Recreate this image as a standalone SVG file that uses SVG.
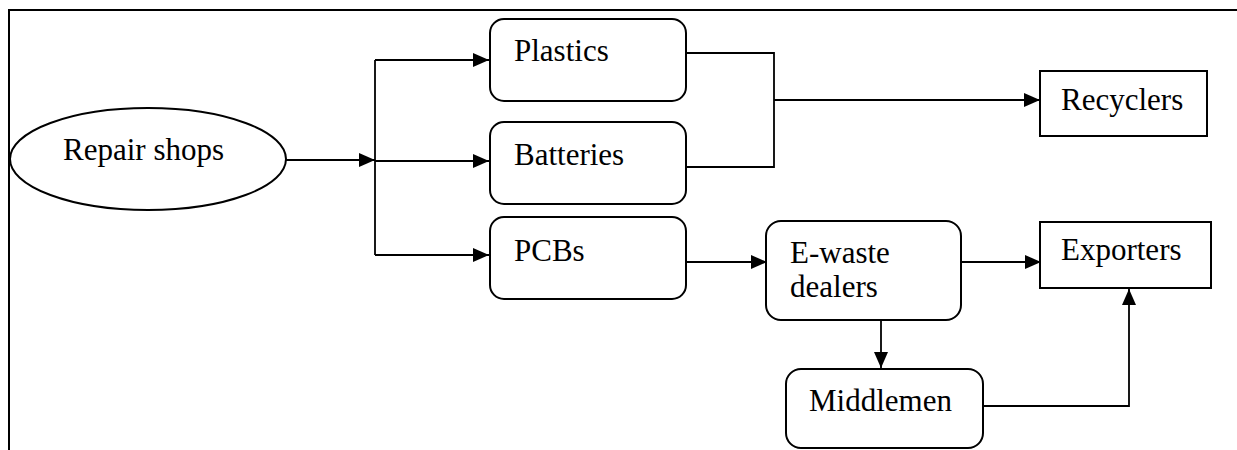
<svg xmlns="http://www.w3.org/2000/svg" width="1237" height="450" viewBox="0 0 1237 450">
<defs>
<style>
.box{fill:#fff;stroke:#000;stroke-width:2}
.ln{fill:none;stroke:#000;stroke-width:1.8}
.t{font-family:"Liberation Serif","Times New Roman",serif;font-size:31px;fill:#000}
</style>
<marker id="ah" markerWidth="16" markerHeight="14" refX="16" refY="7" orient="auto" markerUnits="userSpaceOnUse">
<path d="M0,0 L16,7 L0,14 Z" fill="#000"/>
</marker>
</defs>
<rect width="1237" height="450" fill="#fff"/>
<path d="M9,450 V10 H1237" fill="none" stroke="#000" stroke-width="2"/>
<g id="connectors">
<line class="ln" x1="286" y1="160" x2="375" y2="160" marker-end="url(#ah)"/>
<line class="ln" x1="375" y1="60" x2="375" y2="255"/>
<line class="ln" x1="375" y1="60" x2="489" y2="60" marker-end="url(#ah)"/>
<line class="ln" x1="375" y1="161" x2="489" y2="161" marker-end="url(#ah)"/>
<line class="ln" x1="375" y1="255" x2="489" y2="255" marker-end="url(#ah)"/>
<path class="ln" d="M686,53 H774 V167 H686"/>
<line class="ln" x1="774" y1="100" x2="1040" y2="100" marker-end="url(#ah)"/>
<line class="ln" x1="686" y1="262" x2="767" y2="262" marker-end="url(#ah)"/>
<line class="ln" x1="958" y1="262" x2="1041" y2="262" marker-end="url(#ah)"/>
<line class="ln" x1="881" y1="302" x2="881" y2="368" marker-end="url(#ah)"/>
<path class="ln" d="M983,406 H1129 V289" marker-end="url(#ah)"/>
</g>
<g id="repair-shops">
<ellipse class="box" cx="148" cy="159" rx="138" ry="51"/>
<text class="t" x="63" y="160">Repair shops</text>
</g>
<g id="plastics">
<rect class="box" x="490" y="19" width="196" height="82" rx="14"/>
<text class="t" x="514" y="61">Plastics</text>
</g>
<g id="batteries">
<rect class="box" x="490" y="122" width="196" height="82" rx="14"/>
<text class="t" x="514" y="165">Batteries</text>
</g>
<g id="pcbs">
<rect class="box" x="490" y="217" width="196" height="82" rx="14"/>
<text class="t" x="514" y="261">PCBs</text>
</g>
<g id="recyclers">
<rect class="box" x="1040" y="71" width="167" height="65"/>
<text class="t" x="1061" y="110">Recyclers</text>
</g>
<g id="e-waste-dealers">
<rect class="box" x="766" y="221" width="195" height="99" rx="15"/>
<text class="t" x="790" y="263">E-waste</text>
<text class="t" x="790" y="297">dealers</text>
</g>
<g id="exporters">
<rect class="box" x="1040" y="222" width="171" height="66"/>
<text class="t" x="1061" y="260">Exporters</text>
</g>
<g id="middlemen">
<rect class="box" x="786" y="369" width="197" height="79" rx="15"/>
<text class="t" x="809" y="411">Middlemen</text>
</g>
</svg>
